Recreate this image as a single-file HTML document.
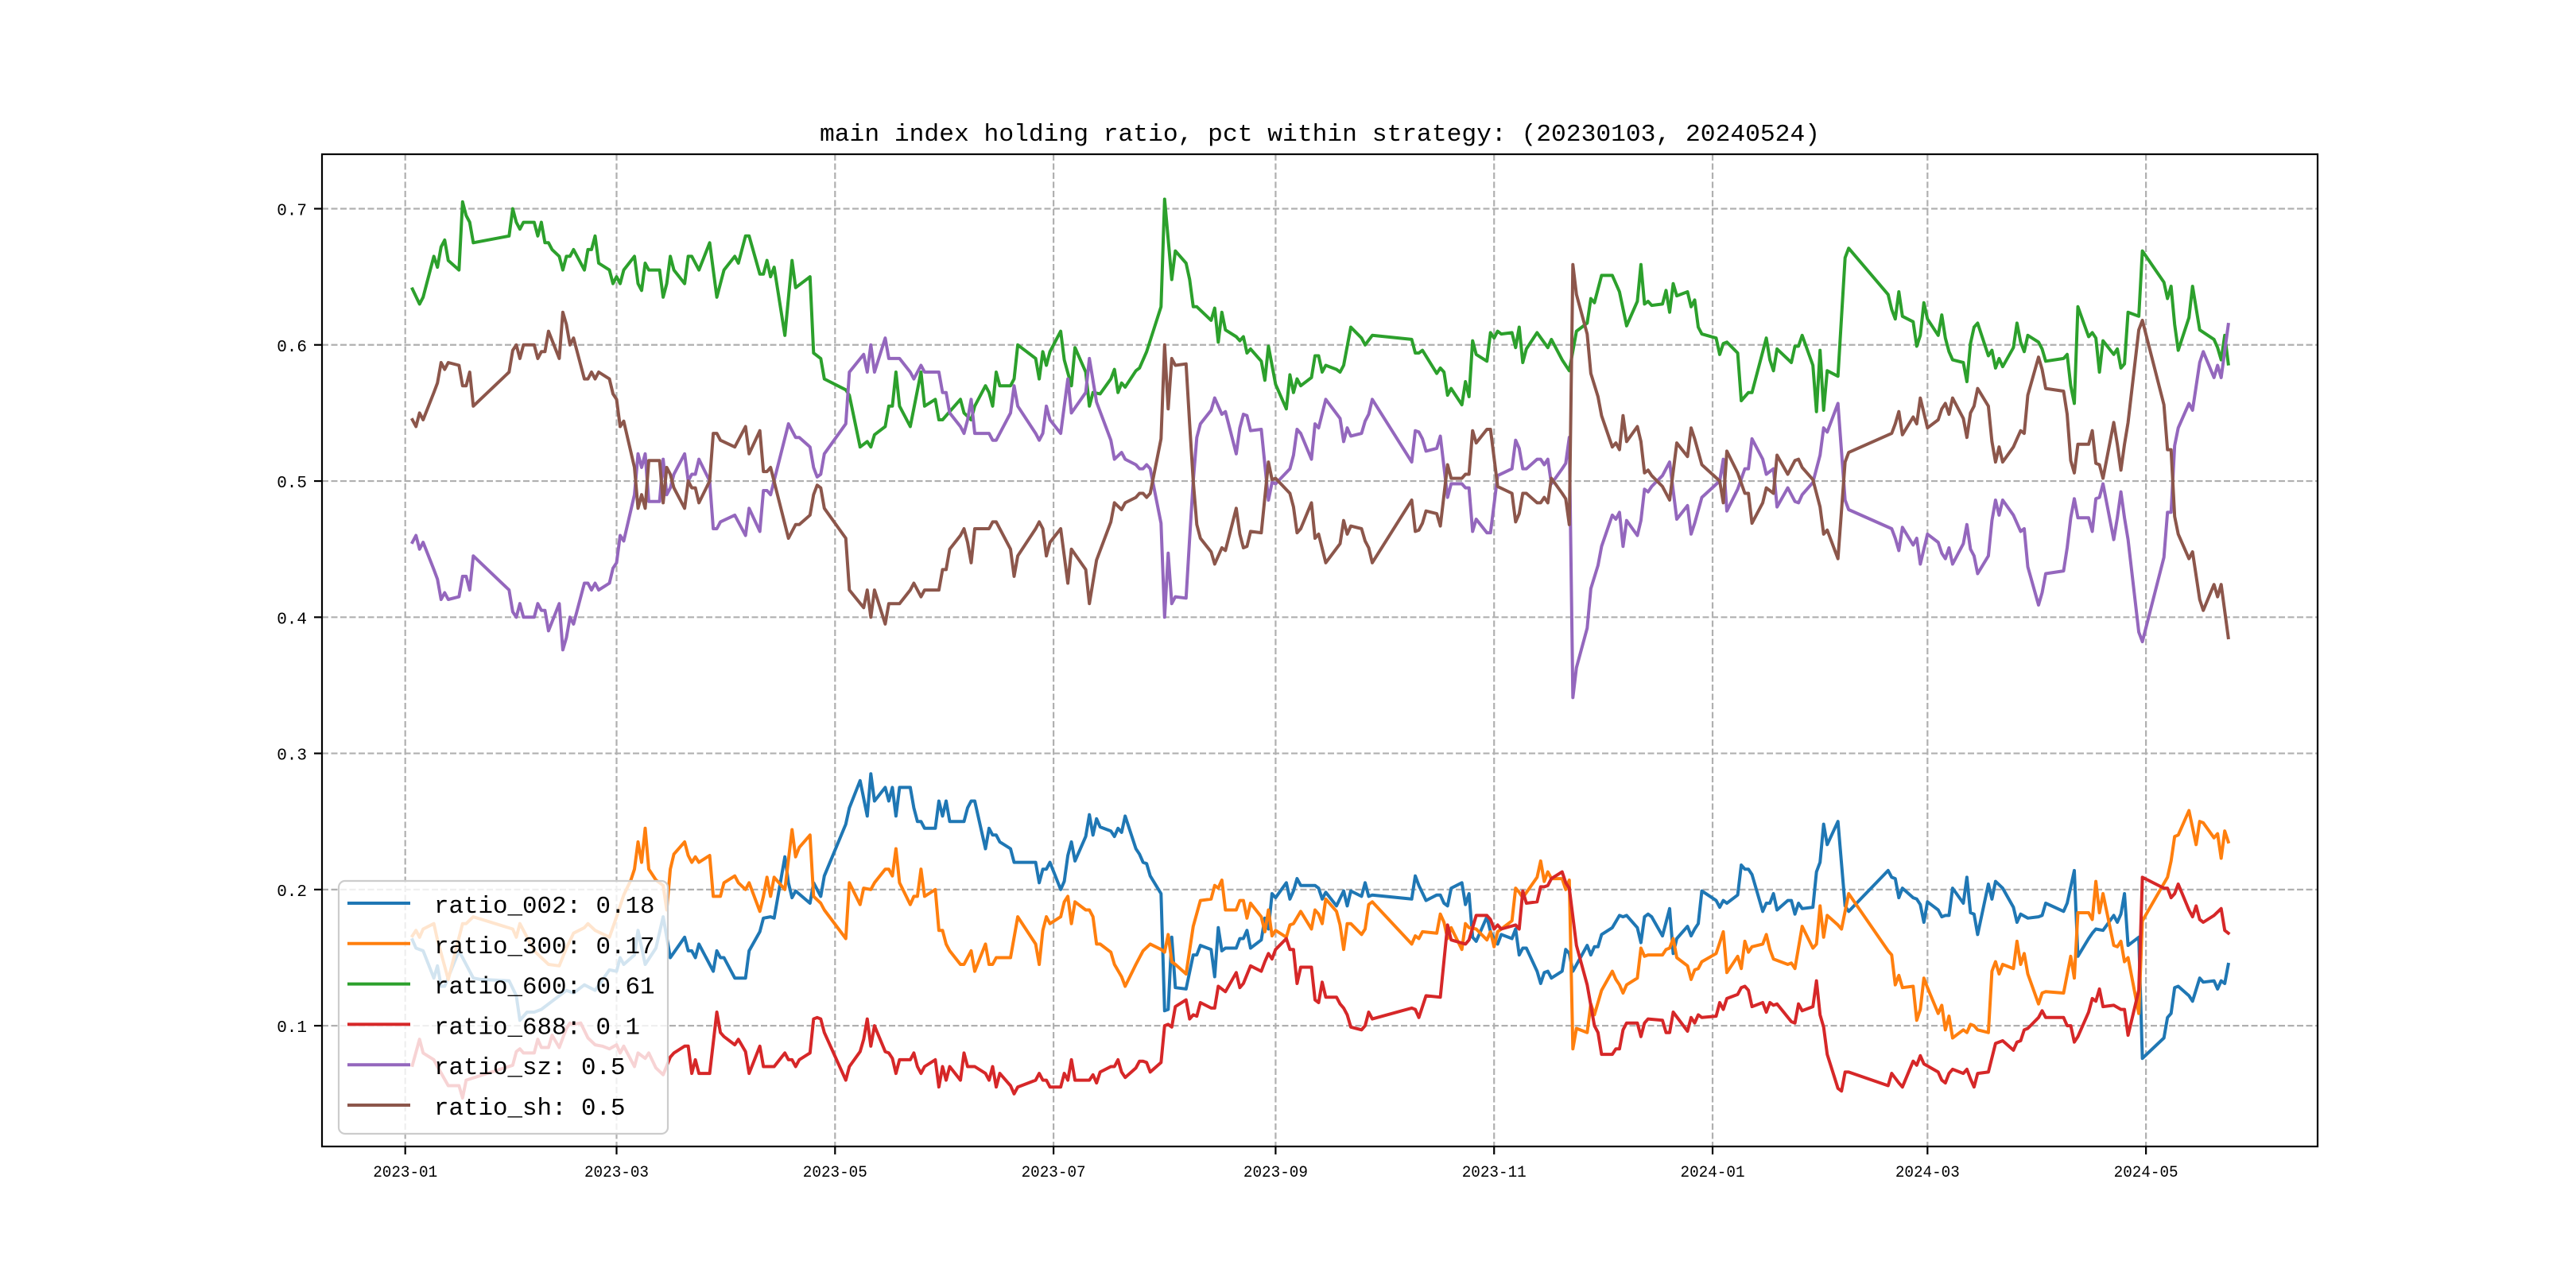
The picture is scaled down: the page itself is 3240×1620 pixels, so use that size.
<!DOCTYPE html>
<html><head><meta charset="utf-8"><title>main index holding ratio</title>
<style>html,body{margin:0;padding:0;background:#fff}svg{display:block}</style></head>
<body>
<svg id="chart" xmlns="http://www.w3.org/2000/svg" width="3240" height="1620" viewBox="0 0 3240 1620">
<rect x="0" y="0" width="3240" height="1620" fill="#fff"/>
<text x="1660" y="177" text-anchor="middle" font-family="Liberation Mono, monospace" font-size="31" textLength="1258" lengthAdjust="spacingAndGlyphs" fill="#000">main index holding ratio, pct within strategy: (20230103, 20240524)</text>
<defs><clipPath id="plotclip"><rect x="405" y="194" width="2510" height="1248"/></clipPath></defs>
<g id="grid"></g>
<g id="series" clip-path="url(#plotclip)"></g>
<rect x="405" y="194" width="2510" height="1248" fill="none" stroke="#000" stroke-width="2.2"/>
<g id="ticks"></g>
<g id="legend"></g>
</svg>
<script>
const baseDate = '2023-01-01';
const xTickLabels = ['2023-01','2023-03','2023-05','2023-07','2023-09','2023-11','2024-01','2024-03','2024-05'];
const yTickValues = [0.1,0.2,0.3,0.4,0.5,0.6,0.7];
const seriesNames = ['ratio_002','ratio_300','ratio_600','ratio_688','ratio_sz','ratio_sh'];
const legendValues = ['0.18','0.17','0.61','0.1','0.5','0.5'];

const days002 = [2,3,5,8,9,10,11,15,19,21,29,31,32,34,36,38,41,45,47,50,53,57,59,60,61,64,65,67,70,72,74,78,79,80,81,82,86,87,88,89,92,95,96,99,100,102,103,106,107,108,109,113,114,116,117,123,124,127,129,130,131,134,135,136,137,138,141,142,143,144,145,148,149,150,151,152,156,157,158,159,162,163,164,165,166,169,170,176,177,178,179,180,183,184,185,186,187,190,191,192,193,194,197,198,199,200,201,204,205,206,207,208,211,212,213,214,215,218,220,221,222,225,226,227,228,229,232,233,234,235,236,239,240,241,242,243,246,247,248,249,250,254,255,256,257,260,262,263,264,267,268,269,270,281,282,283,285,288,289,290,291,292,295,296,297,298,299,302,303,304,305,306,309,310,311,312,313,316,317,318,319,320,323,324,325,326,330,331,332,333,334,337,339,340,341,344,345,346,347,348,351,353,354,355,358,359,360,361,362,366,367,368,369,372,373,374,375,376,379,380,381,382,383,386,387,388,389,390,393,394,395,396,397,400,402,403,414,415,416,417,418,421,422,423,424,425,428,429,430,431,432,435,436,437,438,439,442,443,444,446,449,450,451,453,456,457,458,463,464,466,467,470,471,472,474,477,478,479,480,481,484,485,491,492,493,494,495,498,499,501,502,505,506,507,508,509];
const vals002 = [.163,.157,.155,.135,.144,.129,.129,.155,.135,.134,.133,.122,.104,.110,.110,.112,.118,.126,.124,.130,.126,.141,.140,.150,.145,.152,.170,.145,.157,.180,.150,.165,.155,.155,.150,.160,.140,.155,.150,.150,.135,.135,.155,.169,.179,.180,.179,.224,.205,.194,.199,.190,.205,.195,.210,.248,.260,.280,.254,.285,.265,.275,.265,.275,.254,.275,.275,.260,.250,.250,.245,.245,.265,.254,.265,.250,.250,.260,.265,.265,.230,.245,.240,.240,.235,.230,.220,.220,.205,.215,.215,.220,.200,.206,.225,.235,.221,.239,.255,.240,.252,.246,.243,.239,.245,.242,.254,.230,.226,.220,.219,.210,.197,.111,.112,.165,.128,.127,.152,.152,.159,.156,.136,.172,.155,.157,.157,.164,.164,.170,.157,.163,.179,.171,.197,.194,.205,.193,.199,.208,.203,.203,.201,.193,.198,.188,.199,.188,.199,.195,.205,.195,.196,.193,.210,.203,.192,.196,.196,.190,.188,.201,.205,.189,.197,.165,.162,.180,.169,.164,.160,.167,.164,.171,.152,.157,.157,.140,.131,.139,.140,.135,.140,.156,.153,.140,.159,.152,.158,.158,.167,.172,.181,.180,.181,.172,.161,.180,.182,.180,.166,.186,.153,.164,.173,.166,.171,.175,.199,.192,.187,.192,.190,.196,.218,.215,.215,.211,.184,.190,.190,.197,.185,.192,.192,.182,.190,.186,.187,.213,.220,.248,.233,.250,.188,.184,.214,.209,.208,.194,.201,.194,.193,.189,.176,.191,.185,.180,.181,.181,.201,.190,.209,.183,.182,.167,.204,.193,.206,.201,.187,.176,.182,.179,.180,.181,.190,.184,.190,.214,.151,.164,.168,.171,.170,.181,.176,.182,.197,.159,.165,.076,.091,.106,.109,.128,.129,.122,.118,.135,.132,.133,.127,.133,.131,.145];

const days300 = [2,3,4,5,8,9,12,16,17,19,30,31,32,36,40,43,45,47,50,51,53,57,59,61,63,64,65,66,67,68,70,72,73,74,75,78,79,80,81,82,85,86,88,89,92,93,95,96,99,100,101,102,103,105,106,108,109,110,113,114,116,117,123,124,127,128,130,131,134,135,136,137,138,141,142,143,144,145,148,149,150,151,152,155,156,158,159,162,163,164,165,169,171,176,177,178,179,180,183,184,185,186,187,190,191,192,193,194,197,198,200,201,204,206,208,211,212,213,214,215,218,220,222,225,226,227,228,229,232,233,234,235,236,239,240,241,242,243,246,247,248,250,253,254,255,256,257,260,261,262,263,264,267,268,269,270,281,282,283,284,288,289,290,291,292,295,296,297,299,302,303,304,305,306,309,310,311,312,316,317,318,319,320,323,324,325,326,327,330,331,332,334,337,338,339,340,341,344,345,346,347,348,351,352,353,354,355,358,359,360,361,362,366,367,368,369,372,373,374,375,376,379,380,381,382,386,387,388,390,393,394,395,396,397,400,401,403,414,415,416,417,418,421,422,423,424,425,428,429,430,431,432,435,436,437,438,439,442,443,444,445,446,449,450,451,452,453,456,457,458,463,465,466,467,470,471,472,473,474,477,478,479,480,481,484,485,492,493,494,495,498,500,501,502,505,506,507,508,509];
const vals300 = [.166,.170,.165,.171,.175,.163,.134,.175,.175,.180,.171,.165,.175,.155,.145,.144,.157,.168,.172,.175,.170,.165,.180,.196,.207,.215,.235,.220,.245,.215,.207,.203,.185,.215,.226,.235,.225,.220,.224,.220,.225,.195,.195,.205,.210,.205,.200,.205,.184,.195,.209,.195,.209,.203,.200,.244,.224,.231,.240,.195,.190,.185,.164,.205,.189,.201,.200,.205,.215,.215,.210,.230,.205,.189,.195,.195,.215,.195,.200,.170,.170,.160,.155,.145,.145,.155,.140,.160,.145,.145,.150,.150,.180,.160,.145,.170,.180,.175,.180,.191,.195,.175,.191,.185,.185,.180,.160,.160,.154,.145,.136,.129,.145,.155,.160,.156,.154,.167,.147,.145,.138,.173,.192,.193,.203,.201,.207,.185,.185,.192,.192,.179,.190,.180,.169,.185,.166,.170,.165,.174,.175,.184,.171,.185,.182,.175,.193,.184,.174,.156,.175,.175,.167,.171,.189,.191,.160,.166,.164,.169,.168,.182,.176,.164,.172,.156,.175,.172,.171,.163,.169,.158,.169,.171,.177,.201,.198,.194,.209,.221,.206,.213,.208,.208,.200,.207,.083,.098,.095,.116,.108,.126,.140,.134,.130,.124,.130,.135,.157,.151,.152,.152,.152,.156,.157,.164,.150,.144,.134,.141,.142,.147,.153,.161,.169,.139,.151,.142,.162,.154,.158,.160,.167,.156,.149,.145,.146,.142,.173,.157,.160,.188,.165,.181,.174,.171,.197,.155,.152,.130,.137,.128,.129,.104,.112,.135,.128,.109,.115,.097,.107,.091,.097,.095,.101,.100,.097,.095,.140,.147,.138,.145,.142,.162,.145,.153,.138,.116,.124,.125,.124,.151,.135,.183,.183,.178,.206,.183,.197,.159,.158,.162,.147,.150,.109,.177,.209,.221,.239,.240,.258,.233,.250,.249,.238,.241,.223,.243,.235];

const days600 = [2,4,5,8,9,10,11,12,15,16,17,18,19,29,30,31,32,33,36,37,38,39,40,41,43,44,45,46,47,50,51,52,53,54,57,58,59,60,61,64,65,66,67,68,71,72,73,74,75,78,79,80,82,85,87,89,92,93,95,96,99,100,101,102,103,106,108,109,113,114,116,117,123,124,127,129,130,131,134,135,136,137,138,141,144,145,148,149,150,152,155,156,158,159,162,163,164,165,166,169,170,171,176,177,178,179,180,183,184,186,187,190,191,192,194,197,198,199,200,201,204,205,207,211,212,214,215,218,219,220,221,225,226,227,228,229,232,233,234,235,236,239,240,241,243,246,247,248,249,250,253,254,255,256,257,260,261,262,264,267,268,270,281,282,283,284,288,289,290,291,292,295,296,297,298,299,302,303,304,305,306,309,310,311,312,313,316,319,320,323,325,327,330,331,332,334,337,338,339,341,344,345,346,347,348,351,352,353,354,355,358,359,360,361,362,366,367,368,369,372,373,375,376,380,381,382,383,387,388,389,390,393,394,395,396,397,400,402,403,414,415,416,417,418,421,422,423,424,425,428,429,430,431,432,435,436,437,438,439,442,443,444,445,446,449,450,451,452,453,456,457,458,463,464,465,466,467,470,471,472,473,474,477,478,479,480,481,484,485,491,492,493,494,495,498,499,501,505,506,507,508,509];
const vals600 = [.641,.630,.635,.665,.657,.672,.677,.662,.655,.705,.695,.690,.675,.680,.700,.690,.685,.690,.690,.680,.690,.675,.675,.670,.665,.655,.665,.665,.670,.655,.670,.670,.680,.660,.655,.645,.650,.645,.655,.665,.645,.640,.660,.655,.655,.635,.645,.665,.655,.645,.665,.665,.655,.675,.635,.655,.665,.660,.680,.680,.652,.652,.662,.650,.657,.607,.662,.642,.650,.594,.590,.575,.567,.563,.525,.529,.525,.534,.540,.555,.555,.580,.555,.540,.580,.555,.560,.545,.545,.551,.560,.550,.545,.555,.570,.565,.555,.580,.570,.570,.575,.600,.590,.575,.595,.585,.595,.610,.589,.570,.598,.580,.555,.565,.564,.575,.582,.565,.572,.569,.581,.583,.595,.628,.707,.648,.669,.660,.648,.628,.628,.618,.627,.602,.624,.611,.606,.603,.606,.594,.597,.588,.574,.599,.571,.553,.578,.565,.575,.570,.576,.592,.592,.580,.585,.582,.580,.585,.613,.605,.600,.607,.604,.594,.594,.596,.579,.583,.580,.563,.568,.556,.573,.562,.603,.593,.588,.609,.605,.610,.608,.609,.598,.613,.587,.597,.609,.598,.604,.589,.581,.610,.616,.634,.631,.651,.651,.645,.639,.614,.632,.659,.630,.632,.629,.630,.640,.624,.645,.636,.639,.628,.633,.613,.608,.605,.593,.601,.602,.594,.559,.565,.565,.605,.589,.581,.597,.587,.599,.599,.607,.585,.551,.596,.552,.581,.577,.664,.671,.637,.626,.619,.639,.621,.617,.599,.607,.631,.619,.607,.622,.605,.595,.589,.587,.573,.601,.613,.616,.592,.596,.583,.590,.584,.598,.616,.602,.595,.607,.602,.597,.588,.590,.593,.570,.557,.628,.606,.609,.605,.580,.603,.593,.597,.583,.586,.624,.621,.669,.646,.634,.643,.615,.596,.620,.643,.611,.604,.598,.589,.607,.586];

const days688 = [2,4,5,8,9,12,15,16,17,30,31,32,33,36,37,38,40,41,43,45,46,47,49,51,53,55,57,59,60,61,64,65,67,68,70,72,74,75,78,79,80,81,82,85,87,88,89,92,93,95,96,99,100,103,106,107,108,109,110,113,114,115,116,117,123,124,127,128,129,130,131,134,135,136,137,138,141,142,143,144,145,148,149,150,151,152,155,156,157,159,162,163,164,165,166,169,170,171,176,177,178,179,180,183,184,185,186,187,191,192,193,194,197,198,199,200,201,204,205,206,207,208,211,212,213,214,215,218,219,220,221,222,225,226,227,229,232,233,234,236,239,240,241,242,243,246,247,248,249,250,253,254,255,256,257,260,261,262,263,264,267,268,269,270,281,282,283,285,289,291,292,296,297,299,302,303,304,305,306,310,311,312,313,316,317,318,319,320,323,324,325,327,330,332,333,334,337,338,339,340,341,344,345,346,347,351,352,353,354,358,359,360,361,362,366,367,368,369,372,373,374,375,376,379,380,381,382,383,387,388,389,390,393,394,395,396,397,400,401,402,403,414,415,417,418,421,422,423,424,428,429,430,431,432,435,436,437,438,439,442,444,446,449,450,451,452,453,456,457,458,463,464,465,466,467,470,471,472,473,474,477,479,480,481,484,485,491,492,493,494,495,498,499,500,501,502,505,507,508,509];
const vals688 = [.071,.090,.080,.075,.070,.056,.056,.047,.060,.071,.081,.083,.080,.080,.090,.084,.084,.093,.084,.098,.102,.101,.102,.091,.086,.085,.083,.086,.080,.085,.070,.080,.076,.080,.069,.064,.077,.080,.085,.085,.065,.075,.065,.065,.110,.095,.092,.086,.090,.081,.065,.085,.070,.070,.080,.075,.075,.070,.075,.080,.105,.106,.105,.095,.060,.070,.081,.090,.105,.085,.100,.081,.080,.076,.065,.075,.075,.080,.070,.065,.070,.075,.055,.070,.060,.070,.060,.080,.070,.070,.065,.060,.070,.055,.065,.056,.050,.055,.060,.065,.060,.060,.055,.055,.065,.060,.075,.060,.060,.064,.058,.066,.070,.070,.075,.066,.062,.069,.074,.074,.073,.066,.073,.100,.101,.099,.114,.119,.105,.108,.107,.117,.113,.113,.129,.125,.139,.128,.131,.144,.140,.147,.153,.149,.156,.164,.156,.156,.131,.143,.143,.119,.117,.132,.121,.121,.116,.113,.108,.099,.097,.100,.110,.105,.113,.112,.106,.122,.121,.174,.163,.160,.163,.181,.181,.178,.171,.174,.171,.174,.171,.199,.190,.191,.202,.202,.203,.208,.213,.205,.201,.159,.130,.100,.095,.079,.079,.083,.083,.097,.102,.102,.092,.102,.105,.104,.095,.095,.110,.096,.106,.102,.108,.106,.107,.117,.112,.120,.123,.128,.129,.126,.114,.117,.110,.117,.115,.116,.103,.102,.116,.111,.114,.133,.108,.099,.079,.054,.052,.066,.066,.056,.065,.058,.055,.074,.071,.078,.072,.066,.060,.058,.065,.068,.065,.068,.061,.055,.065,.066,.087,.089,.082,.088,.089,.097,.098,.106,.111,.106,.106,.100,.100,.088,.092,.110,.120,.118,.127,.114,.115,.112,.112,.093,.126,.209,.201,.201,.194,.197,.204,.185,.180,.188,.178,.176,.181,.186,.170,.168];

const daysSHSZ = [2,3,4,5,8,9,10,11,12,15,16,17,18,19,29,30,31,32,33,36,37,38,39,40,43,44,45,46,47,50,51,52,53,54,57,58,59,60,61,64,65,66,67,68,71,72,73,74,75,78,79,80,81,82,85,86,87,88,92,95,96,99,100,101,102,107,109,110,113,114,115,116,117,123,124,128,129,130,131,134,135,138,141,142,144,145,149,150,151,152,155,156,157,158,159,163,164,165,169,170,171,176,177,178,179,180,183,184,185,186,190,191,193,197,198,200,201,204,205,206,207,208,211,212,213,214,215,218,219,220,221,222,225,226,228,229,232,233,234,235,236,239,241,242,243,247,248,249,250,253,254,255,257,261,262,263,264,267,268,269,270,281,282,283,284,285,288,289,291,292,295,296,297,298,299,302,303,304,305,309,310,311,312,313,316,317,318,319,320,323,324,325,326,327,330,331,333,334,337,338,339,340,341,344,345,346,347,348,351,353,355,358,359,360,362,367,368,369,372,374,375,376,379,380,382,383,386,387,388,389,390,393,395,396,397,400,402,403,415,416,417,418,421,422,423,425,428,429,430,431,432,435,436,437,438,439,442,443,444,445,446,449,450,451,452,453,456,457,458,463,464,465,466,467,470,471,472,473,474,477,478,479,480,481,484,485,491,492,493,494,495,498,499,501,502,505,506,507,509];
const valsSH = [.545,.540,.550,.545,.565,.572,.587,.582,.587,.585,.570,.570,.580,.555,.580,.596,.600,.590,.600,.600,.590,.595,.595,.610,.590,.624,.615,.600,.605,.575,.575,.580,.575,.580,.575,.564,.560,.540,.544,.510,.480,.490,.480,.515,.515,.484,.510,.505,.495,.480,.500,.495,.495,.484,.500,.535,.535,.530,.525,.540,.520,.537,.507,.507,.510,.458,.468,.468,.475,.490,.497,.495,.480,.458,.420,.407,.420,.400,.420,.395,.410,.410,.420,.425,.415,.420,.420,.435,.435,.450,.460,.465,.455,.440,.465,.465,.470,.470,.450,.430,.445,.465,.470,.465,.445,.455,.465,.445,.425,.450,.435,.410,.442,.470,.484,.479,.484,.488,.491,.491,.488,.491,.531,.600,.553,.590,.585,.586,.542,.500,.468,.458,.448,.439,.451,.449,.480,.461,.451,.452,.463,.462,.514,.501,.502,.491,.481,.462,.465,.484,.458,.461,.440,.454,.471,.461,.467,.465,.456,.451,.440,.486,.463,.464,.469,.478,.476,.467,.512,.502,.502,.505,.505,.537,.528,.538,.538,.517,.496,.491,.470,.476,.491,.491,.484,.484,.488,.484,.502,.491,.487,.468,.659,.637,.608,.579,.562,.548,.525,.528,.523,.548,.529,.540,.529,.506,.508,.504,.496,.486,.528,.518,.539,.531,.512,.500,.484,.522,.506,.491,.491,.469,.484,.495,.491,.519,.505,.510,.515,.516,.510,.501,.481,.461,.464,.443,.514,.521,.535,.542,.551,.534,.547,.542,.561,.539,.545,.553,.557,.549,.561,.546,.532,.550,.555,.568,.555,.529,.514,.525,.514,.525,.531,.537,.535,.563,.591,.582,.568,.566,.549,.515,.506,.527,.527,.537,.513,.512,.502,.543,.527,.508,.527,.543,.611,.618,.556,.523,.523,.474,.461,.443,.448,.413,.405,.424,.415,.424,.385];
const valsSZ = [.455,.460,.450,.455,.435,.428,.413,.418,.413,.415,.430,.430,.420,.445,.420,.404,.400,.410,.400,.400,.410,.405,.405,.390,.410,.376,.385,.400,.395,.425,.425,.420,.425,.420,.425,.436,.440,.460,.456,.490,.520,.510,.520,.485,.485,.516,.490,.495,.505,.520,.500,.505,.505,.516,.500,.465,.465,.470,.475,.460,.480,.463,.493,.493,.490,.542,.532,.532,.525,.510,.503,.505,.520,.542,.580,.593,.580,.600,.580,.605,.590,.590,.580,.575,.585,.580,.580,.565,.565,.550,.540,.535,.545,.560,.535,.535,.530,.530,.550,.570,.555,.535,.530,.535,.555,.545,.535,.555,.575,.550,.565,.590,.558,.530,.516,.521,.516,.512,.509,.509,.512,.509,.469,.400,.447,.410,.415,.414,.458,.500,.532,.542,.552,.561,.549,.551,.520,.539,.549,.548,.537,.538,.486,.499,.498,.509,.519,.538,.535,.516,.542,.539,.560,.546,.529,.539,.533,.535,.544,.549,.560,.514,.537,.536,.531,.522,.524,.533,.488,.498,.498,.495,.495,.463,.472,.462,.462,.483,.504,.509,.530,.524,.509,.509,.516,.516,.512,.516,.498,.509,.513,.532,.341,.363,.392,.421,.438,.452,.475,.472,.477,.452,.471,.460,.471,.494,.492,.496,.504,.514,.472,.482,.461,.469,.488,.500,.516,.478,.494,.509,.509,.531,.516,.505,.509,.481,.495,.490,.485,.484,.490,.499,.519,.539,.536,.557,.486,.479,.465,.458,.449,.466,.453,.458,.439,.461,.455,.447,.443,.451,.439,.454,.468,.450,.445,.432,.445,.471,.486,.475,.486,.475,.469,.463,.465,.437,.409,.418,.432,.434,.451,.473,.487,.473,.473,.463,.487,.488,.498,.457,.473,.492,.473,.457,.389,.382,.444,.477,.477,.526,.539,.557,.552,.587,.595,.576,.585,.576,.615];

const NS = 'http://www.w3.org/2000/svg';
const PX_PER_DAY = 4.505, X_ORIGIN = 509.7;
const Y_TOP_VAL = 0.7, Y_TOP_PX = 262.5, PX_PER_UNIT = 1712.7;
const AX_L = 405, AX_R = 2915, AX_T = 194, AX_B = 1442;
function xScale(day){ return X_ORIGIN + day * PX_PER_DAY; }
function yScale(v){ return Y_TOP_PX + (Y_TOP_VAL - v) * PX_PER_UNIT; }
function dayOf(label){ return Math.round((Date.parse(label + '-01T00:00:00Z') - Date.parse(baseDate + 'T00:00:00Z')) / 86400000); }
function mk(tag, attrs){ const e = document.createElementNS(NS, tag); for (const k in attrs) e.setAttribute(k, attrs[k]); return e; }

const grid = document.getElementById('grid');
const ticks = document.getElementById('ticks');
xTickLabels.forEach(function(lbl){
  const x = xScale(dayOf(lbl));
  const gl = mk('line', {x1:x, x2:x, y1:AX_T, y2:AX_B, stroke:'#b0b0b0', 'stroke-width':2.2, 'stroke-dasharray':'8,3.5'});
  
  
  grid.appendChild(gl);
  const tk = mk('line', {x1:x, x2:x, y1:AX_B, y2:AX_B + 10, stroke:'#000', 'stroke-width':2.2});
  
  
  ticks.appendChild(tk);
  const t = mk('text', {x:x, y:AX_B + 38, 'text-anchor':'middle', 'font-family':'Liberation Mono, monospace', 'font-size':20, textLength:81, lengthAdjust:'spacingAndGlyphs', fill:'#000'});
  t.textContent = lbl;
  
  
  ticks.appendChild(t);
});
yTickValues.forEach(function(v){
  const y = yScale(v);
  const gl = mk('line', {x1:AX_L, x2:AX_R, y1:y, y2:y, stroke:'#b0b0b0', 'stroke-width':2.2, 'stroke-dasharray':'8,3.5'});
  
  
  grid.appendChild(gl);
  const tk = mk('line', {x1:AX_L - 10, x2:AX_L, y1:y, y2:y, stroke:'#000', 'stroke-width':2.2});
  
  
  ticks.appendChild(tk);
  const t = mk('text', {x:AX_L - 19, y:y + 8, 'text-anchor':'end', 'font-family':'Liberation Mono, monospace', 'font-size':21, fill:'#000'});
  t.textContent = v.toFixed(1);
  
  
  ticks.appendChild(t);
});

const colors = ['#1f77b4','#ff7f0e','#2ca02c','#d62728','#9467bd','#8c564b'];
const seriesDays = [days002, days300, days600, days688, daysSHSZ, daysSHSZ];
const seriesVals = [vals002, vals300, vals600, vals688, valsSZ, valsSH];
const sg = document.getElementById('series');
seriesNames.forEach(function(name, i){
  const d = seriesDays[i], v = seriesVals[i];
  const n = Math.min(d.length, v.length);
  const pts = [];
  for (let k = 0; k < n; k++) pts.push(xScale(d[k]).toFixed(1) + ',' + yScale(v[k]).toFixed(1));
  const pl = mk('polyline', {points:pts.join(' '), fill:'none', stroke:colors[i], 'stroke-width':4, 'stroke-linejoin':'round', 'stroke-linecap':'square'});
  
  
  sg.appendChild(pl);
});

const lg = document.getElementById('legend');
const box = mk('rect', {x:426, y:1108, width:414, height:318, rx:8, ry:8, fill:'#fff', 'fill-opacity':0.8, stroke:'#cccccc', 'stroke-width':2.2});


lg.appendChild(box);
seriesNames.forEach(function(name, i){
  const y = 1136 + i * 50.8;
  const ln = mk('line', {x1:437, x2:516, y1:y, y2:y, stroke:colors[i], 'stroke-width':4});
  
  
  lg.appendChild(ln);
  const label = name + ': ' + legendValues[i];
  const t = mk('text', {x:546, y:y + 12, 'font-family':'Liberation Mono, monospace', 'font-size':31, textLength:(label.length * 18.5).toFixed(1), lengthAdjust:'spacingAndGlyphs', fill:'#000'});
  t.textContent = label;
  
  
  lg.appendChild(t);
});
</script>
</body></html>
